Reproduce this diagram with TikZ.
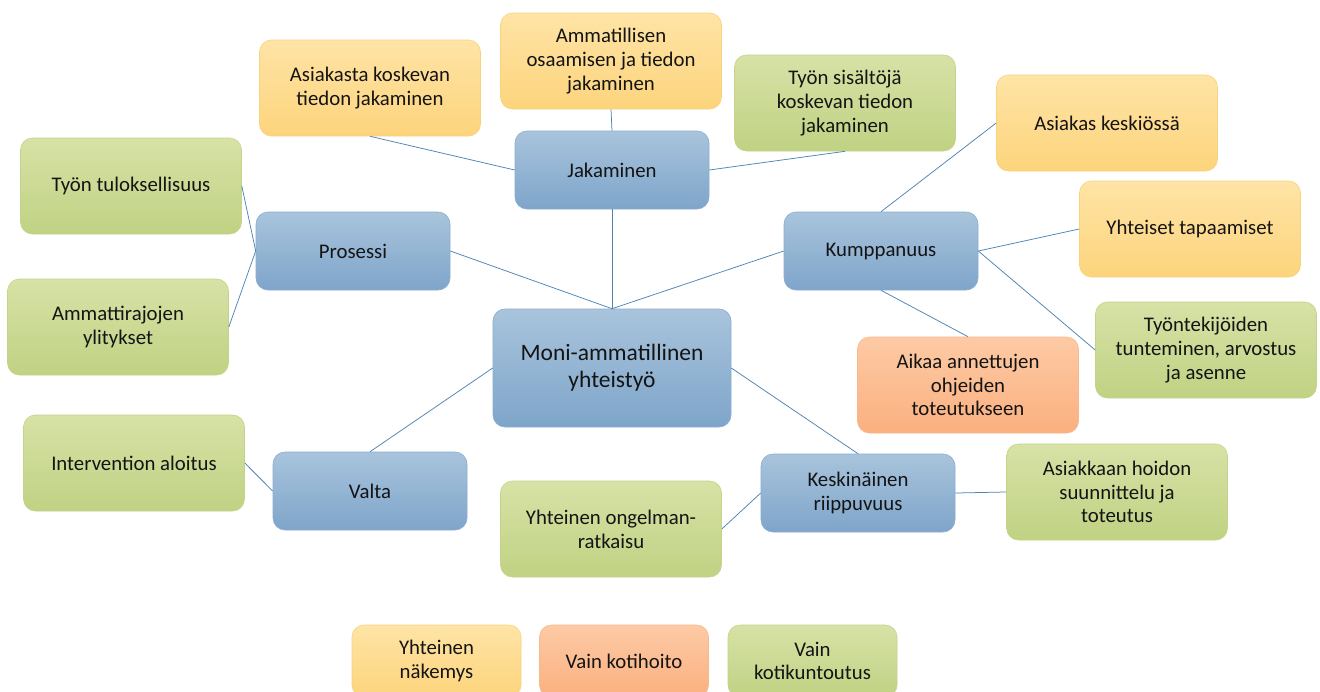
\documentclass[tikz,border=0pt]{standalone}
\usepackage{fontspec}
\setmainfont{Carlito}
\definecolor{bluetop}{HTML}{A9C4DC}
\definecolor{bluebot}{HTML}{7EA5CA}
\definecolor{blueedge}{HTML}{8AAED0}
\definecolor{yeltop}{HTML}{FEE4A6}
\definecolor{yelbot}{HTML}{FDD47C}
\definecolor{yeledge}{HTML}{F7D37F}
\definecolor{grntop}{HTML}{D7E2A6}
\definecolor{grnbot}{HTML}{C0D283}
\definecolor{grnedge}{HTML}{C3D48A}
\definecolor{orgtop}{HTML}{FDCAA5}
\definecolor{orgbot}{HTML}{FBB07F}
\definecolor{orgedge}{HTML}{F8B88C}
\definecolor{linkcol}{HTML}{4F84B4}
\definecolor{txt}{HTML}{141414}
\tikzset{
  box/.style={rectangle, rounded corners=12pt, inner sep=2pt, align=center,
    text=txt, font=\fontsize{20.8}{23.8}\selectfont, line width=0.6pt},
  bluebox/.style={box, top color=bluetop, bottom color=bluebot, draw=blueedge,
    minimum width=194pt, minimum height=78pt},
  yelbox/.style={box, top color=yeltop, bottom color=yelbot, draw=yeledge,
    minimum width=221pt, minimum height=96pt},
  grnbox/.style={box, top color=grntop, bottom color=grnbot, draw=grnedge,
    minimum width=221pt, minimum height=96pt},
  orgbox/.style={box, top color=orgtop, bottom color=orgbot, draw=orgedge,
    minimum width=221pt, minimum height=96pt},
  small/.style={minimum width=169pt, minimum height=72pt},
  link/.style={draw=linkcol, line width=0.75pt}
}
\begin{document}
\begin{tikzpicture}[x=1pt, y=-1pt]
\useasboundingbox (0,0) rectangle (1320,691);
\fill[white] (0,0) rectangle (1320,691);

% central theme
\node[bluebox, minimum width=238pt, minimum height=118pt,
  font=\fontsize{23.5}{27}\selectfont] (main) at (612,368) {Moni-ammatillinen\\yhteistyö};

% main branches
\node[bluebox] (jak) at (612,170) {Jakaminen};
\node[bluebox] (pro) at (353,251) {Prosessi};
\node[bluebox] (kum) at (881,251) {Kumppanuus};
\node[bluebox] (val) at (370,491) {Valta};
\node[bluebox] (kes) at (858,493) {Keskinäinen\\riippuvuus};

% sharing
\node[yelbox] (asi) at (370,88) {Asiakasta koskevan\\tiedon jakaminen};
\node[yelbox] (amm) at (611,61) {Ammatillisen\\osaamisen ja tiedon\\jakaminen};
\node[grnbox] (tss) at (845,103) {Työn sisältöjä\\koskevan tiedon\\jakaminen};

% partnership
\node[yelbox] (ake) at (1107,123) {Asiakas keskiössä};
\node[yelbox] (yta) at (1190,229) {Yhteiset tapaamiset};
\node[grnbox] (tyo) at (1206,350) {Työntekijöiden\\tunteminen, arvostus\\ja asenne};
\node[orgbox] (aik) at (968,385) {Aikaa annettujen\\ohjeiden\\toteutukseen};

% process
\node[grnbox] (tul) at (131,186) {Työn tuloksellisuus};
\node[grnbox] (ylit) at (118,327) {Ammattirajojen\\ylitykset};

% power
\node[grnbox] (int) at (134,463) {Intervention aloitus};

% interdependence
\node[grnbox] (onk) at (611,529) {Yhteinen ongelman-\\ratkaisu};
\node[grnbox] (ahs) at (1117,492) {Asiakkaan hoidon\\suunnittelu ja\\toteutus};

% legend
\node[yelbox, small] (leg1) at (436.5,661) {Yhteinen\\näkemys};
\node[orgbox, small] (leg2) at (624,661) {Vain kotihoito};
\node[grnbox, small] (leg3) at (812.5,661) {Vain\\kotikuntoutus};

% connectors
\draw[link] (jak.south) -- (main.north);
\draw[link] (pro.east) -- (main.north);
\draw[link] (kum.west) -- (main.north);
\draw[link] (main.west) -- (val.north);
\draw[link] (main.east) -- (kes.north);

\draw[link] (jak.west) -- (asi.south);
\draw[link] (jak.north) -- (amm.south);
\draw[link] (jak.east) -- (tss.south);

\draw[link] (kum.north) -- (ake.west);
\draw[link] (kum.east) -- (yta.west);
\draw[link] (kum.east) -- (tyo.west);
\draw[link] (kum.south) -- (aik.north);

\draw[link] (pro.west) -- (tul.east);
\draw[link] (pro.west) -- (ylit.east);

\draw[link] (val.west) -- (int.east);

\draw[link] (kes.west) -- (onk.east);
\draw[link] (kes.east) -- (ahs.west);
\end{tikzpicture}
\end{document}
